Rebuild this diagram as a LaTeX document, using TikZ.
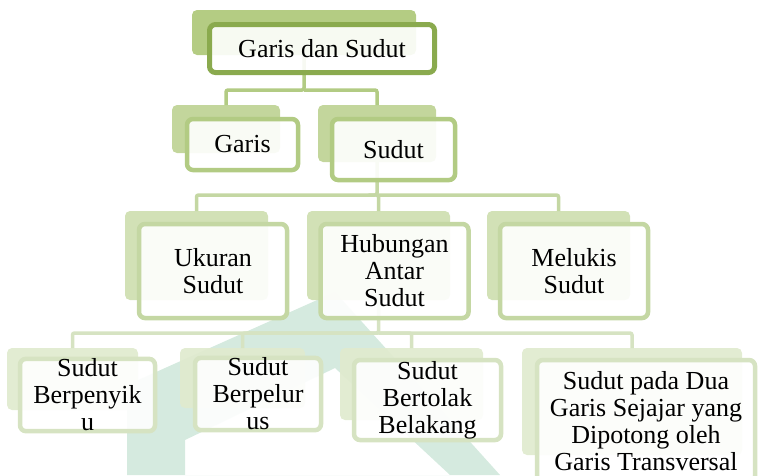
\documentclass[tikz,border=0pt]{standalone}
\usepackage{fontspec}
\setmainfont{Liberation Serif}

\definecolor{wmark}{RGB}{213,234,223}
\definecolor{oneback}{RGB}{174,200,120}
\definecolor{oneline}{RGB}{138,170,78}
\definecolor{twoback}{RGB}{190,211,148}
\definecolor{twoline}{RGB}{178,203,131}
\definecolor{threeback}{RGB}{206,222,176}
\definecolor{threeline}{RGB}{196,215,163}
\definecolor{fourback}{RGB}{224,234,206}
\definecolor{fourline}{RGB}{214,227,194}

\begin{document}
\begin{tikzpicture}[x=1pt, y=-1pt,
    back/.style={rounded corners=5pt, inner sep=0pt, outer sep=0pt, fill opacity=.92},
    front/.style={rounded corners=6pt, fill=white, fill opacity=.9, text opacity=1,
      align=center, inner sep=0pt, outer sep=0pt, line width=4.5pt,
      font=\fontsize{26}{27}\selectfont},
    link/.style={line width=3.5pt, rounded corners=2pt}]
    \clip (0,0) rectangle (759,475);

    % watermark in the background
    \fill[wmark, even odd rule] (127,475) -- (127,385) -- (335,292) -- (500,475) -- cycle
        (185,475) -- (185,440) -- (335,368) -- (450,475) -- cycle;

    \coordinate (barA) at (0,90);
    \coordinate (barB) at (0,195);
    \coordinate (barC) at (0,333);

    % back boxes
    \node[back, fill=oneback, minimum width=224pt, minimum height=45pt] (topB) at (304,32.5) {};
    \node[back, fill=twoback, minimum width=108pt, minimum height=48pt] (garisB) at (226,129) {};
    \node[back, fill=twoback, minimum width=118pt, minimum height=57pt] (sudutB) at (377,133.5) {};
    \node[back, fill=threeback, minimum width=143pt, minimum height=89pt] (ukuranB) at (196.5,255.5) {};
    \node[back, fill=threeback, minimum width=143pt, minimum height=89pt] (hubunganB) at (378.5,255.5) {};
    \node[back, fill=threeback, minimum width=143pt, minimum height=89pt] (melukisB) at (558.5,255.5) {};
    \node[back, fill=fourback, minimum width=131pt, minimum height=62pt] (penyikuB) at (72.5,379) {};
    \node[back, fill=fourback, minimum width=125pt, minimum height=60pt] (pelurusB) at (242.5,378) {};
    \node[back, fill=fourback, minimum width=143pt, minimum height=72pt] (tolakB) at (411.5,384) {};
    \node[back, fill=fourback, minimum width=220pt, minimum height=107pt] (sejajarB) at (632,401.5) {};

    % connectors
    \draw[link, twoline] (topB.south) -- (topB.south |- barA) -| (garisB.north);
    \draw[link, twoline] (topB.south |- barA) -| (sudutB.north);
    \draw[link, threeline] (sudutB.south) -- (sudutB.south |- barB) -| (ukuranB.north);
    \draw[link, threeline] (sudutB.south |- barB) -| (hubunganB.north);
    \draw[link, threeline] (sudutB.south |- barB) -| (melukisB.north);
    \draw[link, fourline] (hubunganB.south) -- (hubunganB.south |- barC) -| (penyikuB.north);
    \draw[link, fourline] (hubunganB.south |- barC) -| (pelurusB.north);
    \draw[link, fourline] (hubunganB.south |- barC) -| (tolakB.north);
    \draw[link, fourline] (hubunganB.south |- barC) -| (sejajarB.north);

    % front boxes
    \node[front, draw=oneline, line width=5pt, minimum width=225pt, minimum height=48pt] (top) at (322,48.5) {Garis dan Sudut};
    \node[front, draw=twoline, minimum width=111pt, minimum height=51pt] (garis) at (242.5,144.5) {Garis};
    \node[front, draw=twoline, minimum width=123pt, minimum height=61pt] (sudut) at (393.5,149.5) {Sudut};
    \node[front, draw=threeline, minimum width=148pt, minimum height=94pt] (ukuran) at (213,271) {Ukuran\\Sudut};
    \node[front, draw=threeline, minimum width=148pt, minimum height=94pt] (hubungan) at (394.5,271) {Hubungan\\Antar\\Sudut};
    \node[front, draw=threeline, minimum width=148pt, minimum height=94pt] (melukis) at (574,271) {Melukis\\Sudut};
    \node[front, draw=fourline, minimum width=135pt, minimum height=70pt] (penyiku) at (87.5,395) {Sudut\\Berpenyik\\u};
    \node[front, draw=fourline, minimum width=126pt, minimum height=68pt] (pelurus) at (258,394) {Sudut\\Berpelur\\us};
    \node[front, draw=fourline, minimum width=147pt, minimum height=80pt] (tolak) at (427.5,400) {Sudut\\Bertolak\\Belakang};
    \node[front, draw=fourline, minimum width=218pt, minimum height=122pt] (sejajar) at (646,421) {Sudut pada Dua\\Garis Sejajar yang\\Dipotong oleh\\Garis Transversal};
\end{tikzpicture}
\end{document}
